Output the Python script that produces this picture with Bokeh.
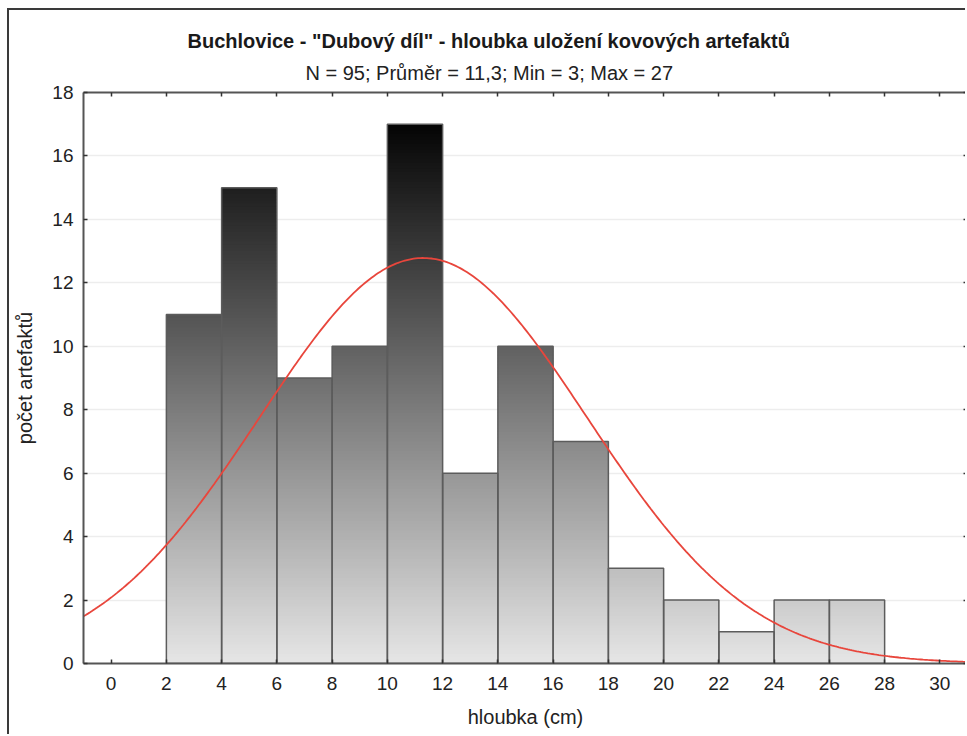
import numpy as np
from bokeh.plotting import figure
from bokeh.models import (Range1d, LinearAxis, FixedTicker, Title, ColumnDataSource)
from bokeh.embed import file_html
from bokeh.resources import INLINE

# ---- data ----
bin_left = [2, 4, 6, 8, 10, 12, 14, 16, 18, 20, 22, 24, 26]
bin_width = 2
counts = [11, 15, 9, 10, 17, 6, 10, 7, 3, 2, 1, 2, 2]
n_total = 95
mean_depth = 11.3
sd_depth = 5.93
x_ticks = list(range(0, 31, 2))
y_ticks = list(range(0, 19, 2))
title_text = 'Buchlovice - "Dubový díl" - hloubka uložení kovových artefaktů'
subtitle_text = "N = 95; Průměr = 11,3; Min = 3; Max = 27"
x_label = "hloubka (cm)"
y_label = "počet artefaktů"

FONT = "Liberation Sans"

p = figure(width=958, height=726, output_backend="svg", toolbar_location=None,
           x_range=Range1d(-1, 31), y_range=Range1d(0, 18),
           min_border_left=74, min_border_right=0, min_border_top=82,
           min_border_bottom=73, title=None,
           styles={"margin-left": "7px", "margin-top": "8px",
                   "border-left": "2px solid #3a3a3a", "border-top": "2px solid #3a3a3a"})
p.background_fill_color = "white"
p.border_fill_color = "white"
p.outline_line_color = None

# grid
p.xgrid.visible = False
p.ygrid.ticker = FixedTicker(ticks=y_ticks)
p.ygrid.grid_line_color = "#ededed"
p.ygrid.grid_line_width = 1.5

# gradient bars: thin horizontal slices coloured by height
dy = 0.1
L, R, B, T, C = [], [], [], [], []
for xl, h in zip(bin_left, counts):
    ys = np.arange(0, h, dy)
    for y0 in ys:
        y1 = min(y0 + dy, h)
        ym = (y0 + y1) / 2
        g = int(round(230 - 13.3 * ym))
        g = max(0, min(255, g))
        L.append(xl); R.append(xl + bin_width); B.append(y0); T.append(min(y1 + 0.4 * dy, h))
        C.append("#%02x%02x%02x" % (g, g, g))
src = ColumnDataSource(dict(left=L, right=R, bottom=B, top=T, color=C))
p.quad(left="left", right="right", bottom="bottom", top="top", source=src,
       fill_color="color", line_color=None)

# bar outlines
lefts = np.array(bin_left, dtype=float)
p.quad(left=lefts, right=lefts + bin_width, bottom=0, top=counts,
       fill_color=None, line_color="#5c5c5c", line_width=1.5)

# fitted normal curve
xs = np.linspace(-1, 31, 400)
ys = n_total * bin_width / (sd_depth * np.sqrt(2 * np.pi)) * np.exp(-(xs - mean_depth) ** 2 / (2 * sd_depth ** 2))
p.line(xs, ys, line_color="#e8463c", line_width=1.8)

# axes
xax = p.xaxis[0]
yax = p.yaxis[0]
for ax in (xax, yax):
    ax.axis_line_color = "#555555"
    ax.axis_line_width = 2
    ax.major_tick_line_color = "#333333"
    ax.major_tick_line_width = 1.5
    ax.major_tick_in = 4
    ax.major_tick_out = 0
    ax.minor_tick_line_color = None
    ax.major_label_text_font = FONT
    ax.major_label_text_font_size = "19px"
    ax.major_label_text_color = "#222222"
    ax.axis_label_text_font = FONT
    ax.axis_label_text_font_size = "20px"
    ax.axis_label_text_font_style = "normal"
    ax.axis_label_text_color = "#222222"
xax.ticker = FixedTicker(ticks=x_ticks)
yax.ticker = FixedTicker(ticks=y_ticks)
xax.axis_label = x_label
yax.axis_label = y_label
xax.major_label_standoff = 13
xax.axis_label_standoff = 13
yax.major_label_standoff = 10
yax.axis_label_standoff = 13

top_ax = LinearAxis(ticker=FixedTicker(ticks=x_ticks), major_label_text_font_size="0px",
                    axis_line_color="#555555", axis_line_width=2,
                    major_tick_in=4, major_tick_out=0, major_tick_line_color="#333333",
                    major_tick_line_width=1.5, minor_tick_line_color=None,
                    major_label_standoff=0)
p.add_layout(top_ax, "above")
right_ax = LinearAxis(ticker=FixedTicker(ticks=y_ticks), major_label_text_font_size="0px",
                      axis_line_color="#d8d8d8", axis_line_width=1,
                      major_tick_in=4, major_tick_out=0, major_tick_line_color="#333333",
                      major_tick_line_width=1.5, minor_tick_line_color=None,
                      major_label_standoff=0)
p.add_layout(right_ax, "right")

p.add_layout(Title(text=subtitle_text, align="left", text_font=FONT,
                   text_font_size="20px", text_font_style="normal",
                   text_color="#222222", offset=222, standoff=17), "above")
p.add_layout(Title(text=title_text, align="left", text_font=FONT,
                   text_font_size="20px", text_font_style="bold",
                   text_color="#1a1a1a", offset=104, standoff=0), "above")

open("out.html", "w").write(file_html(p, INLINE))
